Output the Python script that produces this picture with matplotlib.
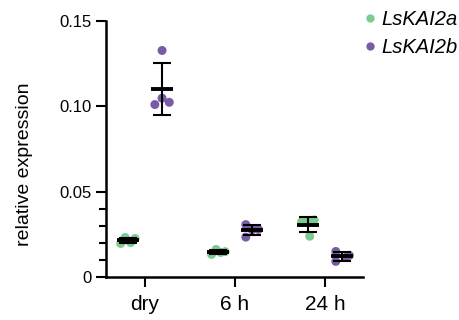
import numpy as np
import matplotlib
matplotlib.use("Agg")
import matplotlib.pyplot as plt
from matplotlib.ticker import FixedLocator
from matplotlib.lines import Line2D

plt.rcParams['font.family'] = ['Liberation Sans', 'DejaVu Sans']

# data
groups = ['dry', '6 h', '24 h']
kai2a = [[0.0198, 0.0233, 0.0203, 0.0227],
         [0.0134, 0.0163, 0.0145, 0.0150],
         [0.0325, 0.0335, 0.0330, 0.0240]]
kai2b = [[0.1326, 0.1047, 0.1010, 0.1023],
         [0.0308, 0.0235, 0.0280, 0.0278],
         [0.0151, 0.0093, 0.0116, 0.0128]]
labels = ['LsKAI2a', 'LsKAI2b']
colors = ['#7dcb8f', '#7a5ca6']

# horizontal spread of the dots inside each cluster
spread_a = [[-0.08, -0.03, 0.03, 0.08], [-0.07, -0.02, 0.03, 0.08], [-0.07, 0.07, 0.0, 0.02]]
spread_b = [[0.0, 0.0, -0.08, 0.08], [-0.07, -0.07, 0.07, 0.0], [-0.07, -0.07, 0.04, 0.08]]

fig = plt.figure(figsize=(4.6, 3.2), dpi=100)
ax = fig.add_axes([0.2304, 0.1334, 0.5587, 0.8019])

x = np.arange(len(groups))
offset = 0.19
for series, spread, col, sign in [(kai2a, spread_a, colors[0], -1), (kai2b, spread_b, colors[1], 1)]:
    for i, vals in enumerate(series):
        xc = x[i] + sign * offset
        ax.scatter(xc + np.array(spread[i]), vals, s=42, color=col, edgecolors='none', zorder=2)
        m = np.mean(vals)
        sd = np.std(vals, ddof=1)
        ax.plot([xc - 0.125, xc + 0.125], [m, m], color='black', lw=2.8, solid_capstyle='butt', zorder=3)
        ax.errorbar(xc, m, yerr=sd, fmt='none', ecolor='black', elinewidth=1.5,
                    capsize=6.5, capthick=1.5, zorder=3)

ax.set_xlim(-0.433, 2.422)
ax.set_ylim(0, 0.15)
ax.set_xticks(x)
ax.set_xticklabels(groups, fontsize=15)
ax.set_yticks([0, 0.05, 0.10, 0.15])
ax.set_yticklabels(['0', '0.05', '0.10', '0.15'], fontsize=12)
ax.yaxis.set_minor_locator(FixedLocator([0.01, 0.02, 0.03, 0.04]))
ax.tick_params(axis='both', which='major', length=7, width=1.5, color='black')
ax.tick_params(axis='y', which='minor', length=5, width=1.5)
ax.tick_params(axis='x', pad=6)
for s in ['top', 'right']:
    ax.spines[s].set_visible(False)
for s in ['left', 'bottom']:
    ax.spines[s].set_linewidth(1.8)
ax.set_ylabel('relative expression', fontsize=14)
ax.yaxis.set_label_coords(-0.285, 0.44)

handles = [Line2D([], [], marker='o', ls='none', color=c, markersize=6, markeredgewidth=0) for c in colors]
fig.legend(handles, labels, loc='upper left', bbox_to_anchor=(0.783, 0.97), frameon=False,
           prop={'style': 'italic', 'size': 14.5}, handletextpad=0.1, labelspacing=0.45,
           handlelength=0.95, borderaxespad=0, borderpad=0)

plt.savefig('out.png', dpi=100)
